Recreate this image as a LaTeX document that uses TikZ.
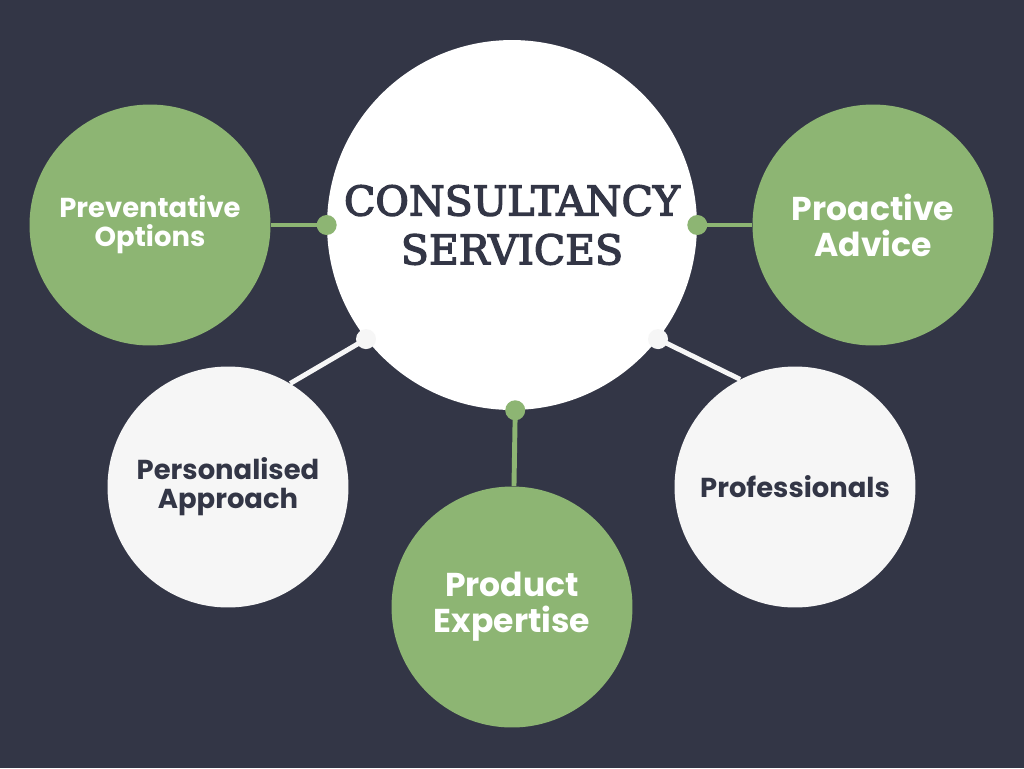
\documentclass[tikz,border=0pt]{standalone}
\usepackage{fontspec}
\setmainfont{Poppins}
\newfontfamily\slabfont[FakeBold=3.2]{DejaVu Serif}
\usepackage{xcolor}
\usepackage{tikz}
\usetikzlibrary{shapes,positioning}

\definecolor{navy}{HTML}{333646}
\definecolor{sage}{HTML}{8DB573}
\definecolor{paper}{HTML}{F6F6F6}

\tikzset{
  hub/.style={circle, fill=white, minimum size=7.4cm, inner sep=0pt, align=center, text=navy,
    font=\slabfont\fontsize{23.3}{27.8}\selectfont},
  greenball/.style={circle, fill=sage, minimum size=4.82cm, inner sep=0pt, align=center, text=white},
  greyball/.style={circle, fill=paper, minimum size=4.82cm, inner sep=0pt, align=center, text=navy},
  smalltxt/.style={font=\fontsize{15.6}{16.4}\selectfont\bfseries},
  bigtxt/.style={font=\fontsize{18.8}{20.4}\selectfont\bfseries},
  greendot/.style={circle, fill=sage, minimum size=0.4cm, inner sep=0pt},
  whitedot/.style={circle, fill=paper, minimum size=0.4cm, inner sep=0pt},
  greenlink/.style={draw=sage, line width=2.8pt},
  whitelink/.style={draw=paper, line width=2.8pt}
}

\begin{document}
\begin{tikzpicture}[x=0.02cm, y=-0.02cm]
        \fill[navy] (0,0) rectangle (1024,768);

        \node[hub] (consult) at (512,225) {CONSULTANCY\\ SERVICES};

        \node[greenball, smalltxt] (prevent) at (150,225) {Preventative\\ Options};
        \node[greenball, bigtxt] (proact) at (873,225) {Proactive\\ Advice};
        \node[greyball, smalltxt] (person) at (228,487) {Personalised\\ Approach};
        \node[greenball, bigtxt] (product) at (512,607) {Product\\ Expertise};
        \node[greyball, smalltxt] (profs) at (795,487) {Professionals};

        \coordinate (leftpin) at (consult.180);
        \coordinate (rightpin) at (consult.0);
        \coordinate (lowpin) at (consult.-89.5);
        \coordinate (swpin) at (consult.218);
        \coordinate (sepin) at (consult.322);

        \draw[greenlink] (leftpin) -- (prevent);
        \draw[greenlink] (rightpin) -- (proact);
        \draw[greenlink] (lowpin) -- (product);
        \draw[whitelink] (swpin) -- (person.59);
        \draw[whitelink] (sepin) -- (profs.117);

        \node[greendot] (leftdot) at (leftpin) {};
        \node[greendot] (rightdot) at (rightpin) {};
        \node[greendot] (lowdot) at (lowpin) {};
        \node[whitedot] (swdot) at (swpin) {};
        \node[whitedot] (sedot) at (sepin) {};
\end{tikzpicture}
\end{document}
